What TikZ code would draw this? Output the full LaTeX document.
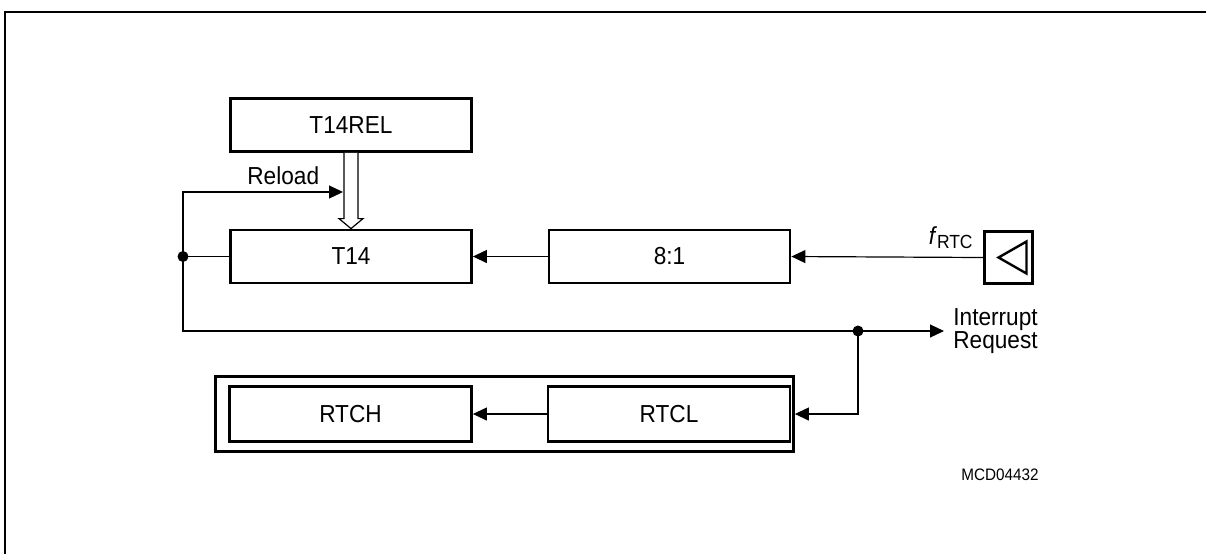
\documentclass[tikz,border=0pt]{standalone}
\usepackage{fontspec}
\setmainfont{Liberation Sans}[FakeStretch=0.92]
\usetikzlibrary{arrows.meta,calc,positioning}

\begin{document}
\begin{tikzpicture}[x=0.5pt,y=-0.5pt,>={Triangle[length=7pt,width=6.5pt]},
  font=\fontsize{12.3}{11.5}\selectfont,
  box/.style={draw,line width=1.4pt,minimum width=120.5pt,minimum height=26.5pt,inner sep=0pt},
  wire/.style={line width=0.6pt},
  jdot/.style={circle,fill,inner sep=0pt,minimum size=5.5pt}]
  \useasboundingbox (0,0) rectangle (1206,554);
  \draw[line width=1pt] (1206,12) -- (5,12) -- (5,554);
  \node[box] (rel) at (351,125) {T14REL};
  \node[box] (t14) at (351,256.5) {T14};
  \node[box] (div) at (669.5,256.5) {8:1};
  \node[draw,line width=1.4pt,minimum width=24pt,minimum height=26pt] (osc) at (1008.5,257.5) {};
  \draw[line width=1.2pt] ($(osc.center)+(-10,0)$) -- ($(osc.center)+(18,-16)$) -- ($(osc.center)+(18,16)$) -- cycle;
  \node[draw,line width=1.4pt,minimum width=289pt,minimum height=37.5pt] (bank) at (504.5,414) {};
  \node[box,minimum width=121pt,minimum height=27.5pt] (rtch) at (350.5,414) {RTCH};
  \node[box,minimum width=121pt,minimum height=27.5pt] (rtcl) at (669,414) {RTCL};
  \coordinate (j1) at (183,256.5);
  \coordinate (rl) at (343,192);
  \coordinate (j2) at (858,331);
  \coordinate (irq) at (944,331);
  \draw[wire,fill=white] ($(rel.south)+(-7,0)$) -- ($(t14.north)+(-7,-10)$) -- ($(t14.north)+(-12,-10)$)
    -- (t14.north) -- ($(t14.north)+(12,-10)$) -- ($(t14.north)+(7,-10)$) -- ($(rel.south)+(7,0)$);
  \draw[wire] (t14.west) -- (j1);
  \draw[wire,->] (j1) |- (rl);
  \draw[wire,->] (j1) |- (irq);
  \draw[wire,->] (j2) |- (bank.east);
  \draw[wire,->] (osc.west) -- (div.east);
  \draw[wire,->] (div.west) -- (t14.east);
  \draw[wire,->] (rtcl.west) -- (rtch.east);
  \node[jdot] at (j1) {};
  \node[jdot] at (j2) {};
  \node[anchor=base west,inner sep=0pt] (rld) at (247,184) {Reload};
  \node[anchor=west,align=left,inner sep=0pt] (irqtxt) at (953,331) {Interrupt\\Request};
  \node[anchor=base east,inner sep=0pt] (flbl) at (973,244) {\textit{f}\raisebox{-0.35ex}{\fontsize{9.5}{9.5}\selectfont RTC}};
  \node[font=\fontsize{8.3}{10}\selectfont] (mcd) at (1000,475) {MCD04432};
\end{tikzpicture}
\end{document}
